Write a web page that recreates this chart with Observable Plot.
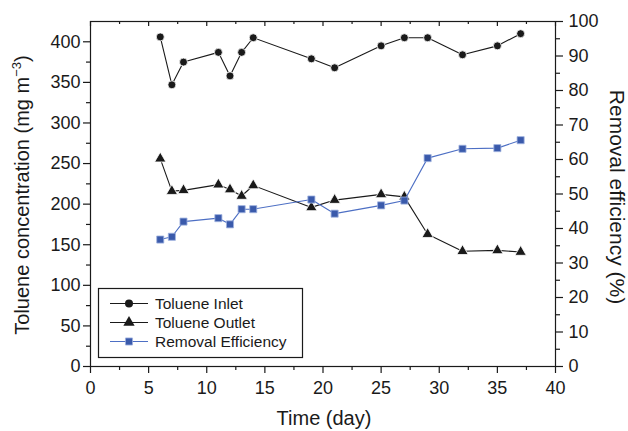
<!DOCTYPE html>
<html><head><meta charset="utf-8">
<script src="https://cdn.jsdelivr.net/npm/d3@7"></script>
<script src="https://cdn.jsdelivr.net/npm/@observablehq/plot@0.6"></script>
<style>html,body{margin:0;padding:0;background:#fff;} svg{display:block}</style>
</head><body><div id="chart"></div>
<script>
// ---- data ----
const days       = [6, 7, 8, 11, 12, 13, 14, 19, 21, 25, 27, 29, 32, 35, 37];
const inlet      = [406, 347, 375, 387, 358, 387, 405, 379, 368, 395, 405, 405, 384, 395, 410];
const outlet     = [256, 216, 217, 224, 218, 210, 223, 196, 205, 212, 209, 163, 142, 143, 141];
const efficiency = [36.8, 37.6, 42.0, 43.0, 41.2, 45.6, 45.6, 48.4, 44.3, 46.7, 48.1, 60.4, 63.1, 63.3, 65.6];

const xTicks          = [0, 5, 10, 15, 20, 25, 30, 35, 40];
const xMinorTicks     = [2.5, 7.5, 12.5, 17.5, 22.5, 27.5, 32.5, 37.5];
const leftTicks       = [0, 50, 100, 150, 200, 250, 300, 350, 400];
const leftMinorTicks  = [25, 75, 125, 175, 225, 275, 325, 375];
const rightTicks      = [0, 10, 20, 30, 40, 50, 60, 70, 80, 90, 100];
const rightMinorTicks = [5, 15, 25, 35, 45, 55, 65, 75, 85, 95];

const seriesNames = ["Toluene Inlet", "Toluene Outlet", "Removal Efficiency"];
const xTitle = "Time (day)";
const leftTitle = "Toluene concentration (mg m";
const leftTitleSup = "\u22123";
const rightTitle = "Removal efficiency (%)";

const leftMax = 425, rightMax = 100, k = leftMax / rightMax;
const rows = days.map((d, i) => ({day: d, inlet: inlet[i], outlet: outlet[i], eff: efficiency[i] * k}));

const W = 628, H = 431, mL = 90, mR = 73, mT = 21, mB = 65;
const ink = "#1a1a1a", blueFill = "#3a5aab", blueLine = "#4d6fc4", blueEdge = "#9fb2e0";
const font = "'Liberation Sans', Arial, sans-serif";

const chart = Plot.plot({
  width: W, height: H,
  marginLeft: mL, marginRight: mR, marginTop: mT, marginBottom: mB,
  style: {fontFamily: font, fontSize: "18px", color: ink, background: "#fff"},
  x: {domain: [0, 40]},
  y: {domain: [0, leftMax]},
  marks: [
    Plot.axisX({ticks: xTicks, tickSize: 7, tickPadding: 8, label: null, strokeWidth: 1.2}),
    Plot.axisX({ticks: xMinorTicks, tickSize: 4, tickFormat: () => "", label: null, strokeWidth: 1.2}),
    Plot.tickX(xTicks, {x: d => d, insetBottom: (H - mT - mB) - 5, stroke: ink, strokeWidth: 1.2}),
    Plot.tickX(xMinorTicks, {x: d => d, insetBottom: (H - mT - mB) - 3, stroke: ink, strokeWidth: 1.2}),
    Plot.axisY({ticks: leftTicks, tickSize: 7, tickPadding: 3, label: null, strokeWidth: 1.2}),
    Plot.axisY({ticks: leftMinorTicks, tickSize: 4, tickFormat: () => "", label: null, strokeWidth: 1.2}),
    Plot.axisY({anchor: "right", ticks: rightTicks.map(v => v * k), tickFormat: d => String(Math.round(d / k)),
                tickSize: 7, tickPadding: 6, label: null, strokeWidth: 1.2}),
    Plot.axisY({anchor: "right", ticks: rightMinorTicks.map(v => v * k), tickFormat: () => "",
                tickSize: 4, label: null, strokeWidth: 1.2}),
    Plot.frame({stroke: ink, strokeWidth: 1.2}),
    Plot.line(rows, {x: "day", y: "inlet", stroke: ink, strokeWidth: 1.1}),
    Plot.dot(rows, {x: "day", y: "inlet", symbol: "circle", r: 4, fill: ink, stroke: "#fff", strokeWidth: 0.8}),
    Plot.line(rows, {x: "day", y: "outlet", stroke: ink, strokeWidth: 1.1}),
    Plot.dot(rows, {x: "day", y: "outlet", symbol: "triangle", r: 4.2, fill: ink, stroke: "#fff", strokeWidth: 0.8}),
    Plot.line(rows, {x: "day", y: "eff", stroke: blueLine, strokeWidth: 1.1}),
    Plot.dot(rows, {x: "day", y: "eff", symbol: "square", r: 4, fill: blueFill, stroke: blueEdge, strokeWidth: 0.8})
  ]
});

const svg = d3.select(chart);

// axis titles
svg.append("text").attr("x", 324).attr("y", 425).attr("text-anchor", "middle")
  .attr("font-family", font).attr("font-size", 20).attr("fill", ink).text(xTitle);

const lt = svg.append("text").attr("transform", "translate(29,195) rotate(-90)").attr("text-anchor", "middle")
  .attr("font-family", font).attr("font-size", 20).attr("fill", ink);
lt.append("tspan").text(leftTitle);
lt.append("tspan").attr("dy", -8).attr("font-size", 13).text(leftTitleSup);
lt.append("tspan").attr("dy", 8).text(")");

svg.append("text").attr("transform", "translate(610,197) rotate(90)").attr("text-anchor", "middle")
  .attr("font-family", font).attr("font-size", 21).attr("fill", ink).text(rightTitle);

// legend
const lg = svg.append("g");
lg.append("rect").attr("x", 98.5).attr("y", 288.5).attr("width", 204).attr("height", 69)
  .attr("fill", "#fff").attr("stroke", ink).attr("stroke-width", 1.2);
const legendY = [303.5, 322.5, 341.5];
const legendStyle = [
  {line: ink, sym: d3.symbolCircle, size: Math.PI * 16, fill: ink, edge: "none"},
  {line: ink, sym: d3.symbolTriangle, size: Math.PI * 4.2 * 4.2, fill: ink, edge: "none"},
  {line: blueLine, sym: d3.symbolSquare, size: Math.PI * 16, fill: blueFill, edge: blueEdge}
];
seriesNames.forEach((name, i) => {
  const y = legendY[i], s = legendStyle[i];
  lg.append("line").attr("x1", 110).attr("x2", 148).attr("y1", y).attr("y2", y)
    .attr("stroke", s.line).attr("stroke-width", 1.1);
  lg.append("path").attr("d", d3.symbol(s.sym, s.size)()).attr("transform", `translate(129,${y})`)
    .attr("fill", s.fill).attr("stroke", s.edge).attr("stroke-width", 0.8);
  lg.append("text").attr("x", 155).attr("y", y).attr("dy", "0.35em").attr("text-anchor", "start")
    .attr("font-family", font).attr("font-size", 15.5).attr("fill", ink).text(name);
});

document.getElementById("chart").appendChild(chart);
</script>
</body></html>
